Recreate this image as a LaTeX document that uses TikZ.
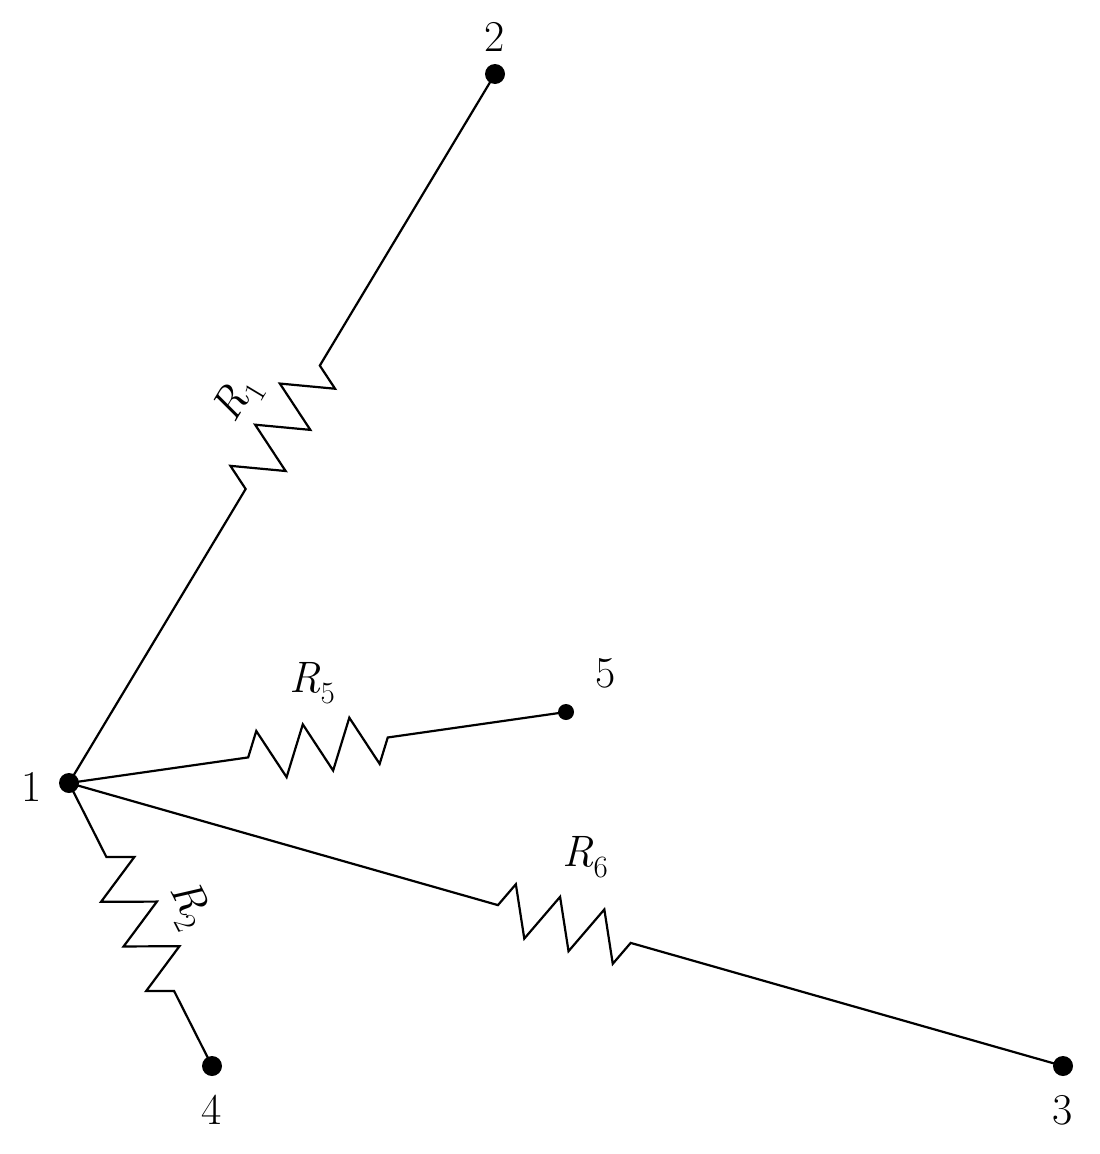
\documentclass[tikz,border=0pt]{standalone}
\usetikzlibrary{decorations.pathmorphing}
\tikzset{
 wire/.style={line width=2.2pt},
 res/.style n args={3}{wire,decorate,decoration={zigzag,segment length=#3,amplitude=25pt,pre length=#1,post length=#2}},
 dot/.style={circle,fill=black,inner sep=0pt,minimum size=#1},
 lab/.style={font=\fontsize{44}{50}\selectfont,inner sep=0pt}
}
\newcommand{\Rlab}[1]{\textit{R}\raisebox{-0.25em}{\fontsize{31}{34}\selectfont #1}}
\begin{document}
\begin{tikzpicture}[x=1pt,y=-1pt]
\useasboundingbox (0,0) rectangle (1100,1154);
\node[dot=20pt] (n1) at (69,783) {};
\node[dot=20pt] (n2) at (495,74) {};
\node[dot=16pt] (n5) at (566,712) {};
\node[dot=20pt] (n4) at (212,1066) {};
\node[dot=20pt] (n3) at (1063,1066) {};
\draw[res={343pt}{339pt}{48pt}] (n1.center) -- (n2.center);
\draw[res={181pt}{180pt}{47pt}] (n1.center) -- (n5.center);
\draw[res={446pt}{444pt}{46pt}] (n1.center) -- (n3.center);
\draw[res={83pt}{84pt}{50pt}] (n1.center) -- (n4.center);
\node[lab] (l2) at (495,37) {2};
\node[lab] (l1) at (32,787) {1};
\node[lab] (l5) at (606,673) {5};
\node[lab] (l4) at (212,1110) {4};
\node[lab] (l3) at (1063,1110) {3};
\node[lab,rotate=59] (r1) at (238,400) {\Rlab{1}};
\node[lab,rotate=-63] (r2) at (188,905) {\Rlab{2}};
\node[lab] (r5) at (312,683) {\Rlab{5}};
\node[lab] (r6) at (585,857) {\Rlab{6}};
\end{tikzpicture}
\end{document}
